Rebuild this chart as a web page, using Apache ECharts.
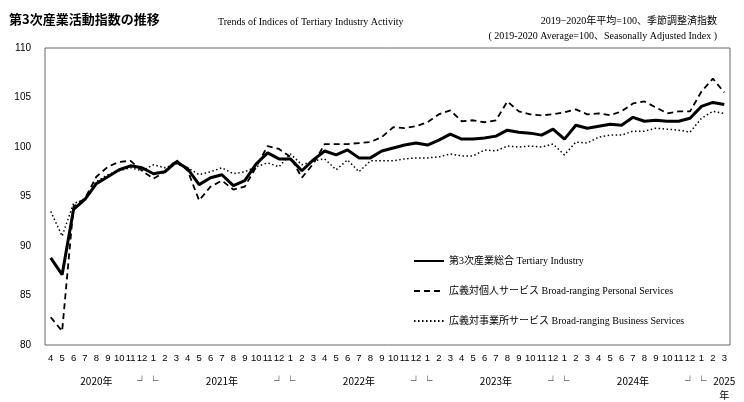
<!DOCTYPE html><html><head><meta charset="utf-8">
<script src="https://cdn.jsdelivr.net/npm/echarts@6/dist/echarts.min.js"></script>
<style>body{margin:0}#c{width:744px;height:402px}</style></head><body><div id="c"></div><script>
const months=['4','5','6','7','8','9','10','11','12','1','2','3','4','5','6','7','8','9','10','11','12','1','2','3','4','5','6','7','8','9','10','11','12','1','2','3','4','5','6','7','8','9','10','11','12','1','2','3','4','5','6','7','8','9','10','11','12','1','2','3'];
const yearLabels={4:'2020年',8:'┘',9:'└',15:'2021年',20:'┘',21:'└',27:'2022年',32:'┘',33:'└',39:'2023年',44:'┘',45:'└',51:'2024年',56:'┘',57:'└',59:'2025\n年'};
const total=[88.8,87.1,93.7,94.7,96.3,97.0,97.7,98.1,97.9,97.3,97.5,98.5,97.8,96.2,96.9,97.2,96.1,96.6,98.3,99.4,98.8,98.8,97.6,98.7,99.6,99.2,99.7,98.9,98.9,99.6,99.9,100.2,100.4,100.2,100.7,101.3,100.8,100.8,100.9,101.1,101.7,101.5,101.4,101.2,101.8,100.8,102.2,101.9,102.1,102.3,102.2,103.0,102.6,102.7,102.6,102.6,102.9,104.1,104.5,104.3];
const personal=[82.8,81.4,94.0,94.8,97.0,98.0,98.5,98.6,97.6,96.8,97.5,98.7,97.6,94.6,96.0,96.6,95.7,96.0,98.0,100.1,99.8,99.0,96.9,98.3,100.3,100.3,100.3,100.4,100.5,101.0,102.0,101.9,102.1,102.5,103.3,103.7,102.6,102.7,102.5,102.7,104.6,103.6,103.3,103.2,103.3,103.5,103.8,103.3,103.4,103.2,103.6,104.4,104.6,104.0,103.4,103.6,103.6,105.6,106.9,105.5];
const business=[93.5,91.0,94.3,94.7,96.5,97.2,97.6,97.9,97.6,98.2,97.9,98.3,97.9,97.2,97.5,97.9,97.3,97.5,98.0,98.4,98.0,99.3,98.2,98.6,98.8,97.7,98.7,97.5,98.6,98.6,98.6,98.8,98.9,98.9,99.0,99.3,99.1,99.1,99.7,99.6,100.1,100.0,100.1,100.0,100.3,99.2,100.5,100.4,101.0,101.2,101.2,101.6,101.6,101.9,101.8,101.7,101.5,102.9,103.6,103.4];
const names=['第3次産業総合 Tertiary Industry','広義対個人サービス Broad-ranging Personal Services','広義対事業所サービス Broad-ranging Business Services'];
const F='"Liberation Serif","Noto Sans CJK JP",serif';
const ch=echarts.init(document.getElementById('c'));
const mk=(n,d,w,t)=>({name:n,type:'line',data:d,symbol:'none',lineStyle:{color:'#000',width:w,type:t},itemStyle:{color:'#000'}});
ch.setOption({animation:false,
title:[{text:'第3次産業活動指数の推移',left:4,top:8,textStyle:{fontFamily:'"Noto Sans CJK JP"',fontSize:13,fontWeight:'bold',color:'#000'}},
{text:'Trends of Indices of Tertiary Industry Activity',left:213,top:12,textStyle:{fontFamily:F,fontSize:10,fontWeight:'normal',color:'#000'}},
{text:'2019−2020年平均=100、季節調整済指数',right:22,top:11,textStyle:{fontFamily:F,fontSize:10,fontWeight:'normal',color:'#000'}},
{text:'( 2019-2020 Average=100、Seasonally Adjusted Index )',right:22,top:26,textStyle:{fontFamily:F,fontSize:10,fontWeight:'normal',color:'#000'}}],
grid:{left:45,right:14,top:48,bottom:54,show:true,borderColor:'#666',borderWidth:1},
legend:{orient:'vertical',left:408,top:251,itemGap:20,itemWidth:30,itemHeight:10,itemStyle:{opacity:0},textStyle:{fontFamily:F,fontSize:10,color:'#000'},data:names},
xAxis:[{type:'category',data:months,boundaryGap:true,axisLine:{show:false},axisTick:{show:false},axisLabel:{interval:0,fontSize:9.5,color:'#000',margin:8,fontFamily:'"Liberation Sans",sans-serif'}},
{type:'category',position:'bottom',data:months,boundaryGap:true,axisLine:{show:false},axisTick:{show:false},axisLabel:{interval:0,margin:29,fontSize:10,color:'#000',fontFamily:'"Noto Sans CJK JP"',lineHeight:14,formatter:(v,i)=>yearLabels[i]||''}}],
yAxis:{type:'value',min:80,max:110,interval:5,splitLine:{show:false},axisLine:{show:false},axisTick:{show:false},axisLabel:{fontSize:10,color:'#000',margin:14,fontFamily:'"Liberation Sans",sans-serif'}},
series:[mk(names[0],total,3,'solid'),mk(names[1],personal,1.8,[6,4]),mk(names[2],business,1.5,[1.5,2.5])]});
</script></body></html>
